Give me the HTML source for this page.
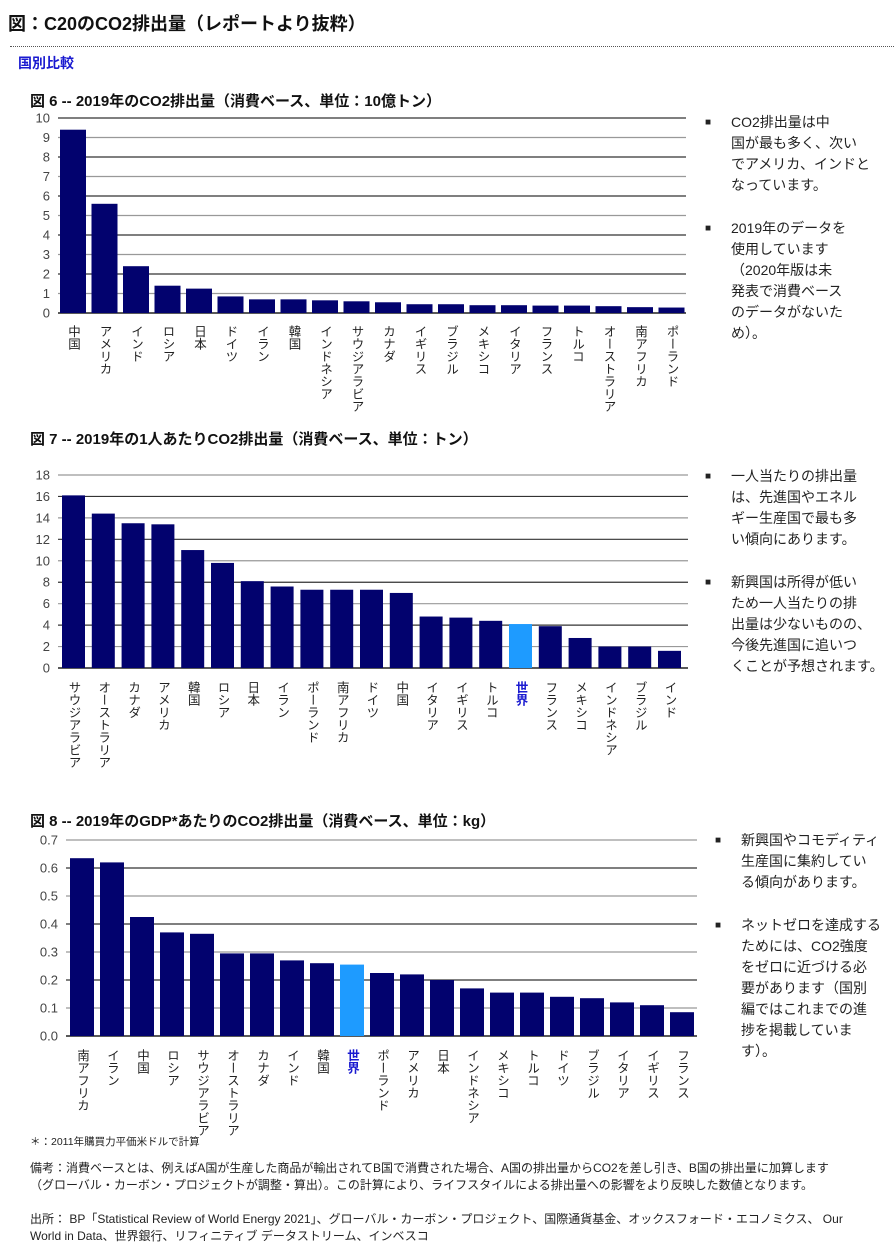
<!DOCTYPE html>
<html><head><meta charset="utf-8">
<style>
body{margin:0;width:894px;height:1254px;background:#fff;position:relative;overflow:hidden;font-family:"Liberation Sans","Noto Sans CJK JP",sans-serif;color:#111}
.a{position:absolute;white-space:nowrap}
.t{font-weight:bold;font-size:15px}
.side{position:absolute;font-size:14px;line-height:21px;color:#222;white-space:nowrap}
.side .b{position:absolute;left:-26px;font-size:10px}
.lbl{position:absolute;writing-mode:vertical-rl;font-size:12.5px;color:#222;line-height:14px}
.note{position:absolute;font-size:12px;color:#222;line-height:17px;white-space:nowrap}
svg{position:absolute;left:0;top:0}
</style></head><body>
<div class="a" style="left:8px;top:10px;font-size:18px;font-weight:bold">図：C20のCO2排出量（レポートより抜粋）</div>
<div class="a" style="left:10px;top:46px;width:884px;border-top:1px dotted #555"></div>
<div class="a" style="left:18px;top:53px;font-size:14px;font-weight:bold;color:#1a1ad0">国別比較</div>
<div class="a t" style="left:30px;top:90px">図 6 -- 2019年のCO2排出量（消費ベース、単位：10億トン）</div>
<div class="a t" style="left:30px;top:428px">図 7 -- 2019年の1人あたりCO2排出量（消費ベース、単位：トン）</div>
<div class="a t" style="left:30px;top:810px">図 8 -- 2019年のGDP*あたりのCO2排出量（消費ベース、単位：kg）</div>

<div class="side" style="left:731px;top:112px">
<div style="position:relative"><span class="b">■</span>CO2排出量は中<br>国が最も多く、次い<br>でアメリカ、インドと<br>なっています。</div>
<div style="position:relative;margin-top:22px"><span class="b">■</span>2019年のデータを<br>使用しています<br>（2020年版は未<br>発表で消費ベース<br>のデータがないた<br>め）。</div>
</div>
<div class="side" style="left:731px;top:466px">
<div style="position:relative"><span class="b">■</span>一人当たりの排出量<br>は、先進国やエネル<br>ギー生産国で最も多<br>い傾向にあります。</div>
<div style="position:relative;margin-top:22px"><span class="b">■</span>新興国は所得が低い<br>ため一人当たりの排<br>出量は少ないものの、<br>今後先進国に追いつ<br>くことが予想されます。</div>
</div>
<div class="side" style="left:741px;top:830px">
<div style="position:relative"><span class="b">■</span>新興国やコモディティ<br>生産国に集約してい<br>る傾向があります。</div>
<div style="position:relative;margin-top:22px"><span class="b">■</span>ネットゼロを達成する<br>ためには、CO2強度<br>をゼロに近づける必<br>要があります（国別<br>編ではこれまでの進<br>捗を掲載していま<br>す）。</div>
</div>

<div class="note" style="left:30px;top:1134px;font-size:10.5px">＊：2011年購買力平価米ドルで計算</div>
<div class="note" style="left:30px;top:1160px">備考：消費ベースとは、例えばA国が生産した商品が輸出されてB国で消費された場合、A国の排出量からCO2を差し引き、B国の排出量に加算します<br>（グローバル・カーボン・プロジェクトが調整・算出）。この計算により、ライフスタイルによる排出量への影響をより反映した数値となります。</div>
<div class="note" style="left:30px;top:1211px">出所： BP「Statistical Review of World Energy 2021」、グローバル・カーボン・プロジェクト、国際通貨基金、オックスフォード・エコノミクス、 Our<br>World in Data、世界銀行、リフィニティブ データストリーム、インベスコ</div>

<svg id="svg" width="894" height="1254"></svg>
<script>
const cats6=["中国","アメリカ","インド","ロシア","日本","ドイツ","イラン","韓国","インドネシア","サウジアラビア","カナダ","イギリス","ブラジル","メキシコ","イタリア","フランス","トルコ","オーストラリア","南アフリカ","ポーランド"];
const vals6=[9.4,5.6,2.4,1.4,1.25,0.85,0.7,0.7,0.65,0.6,0.55,0.45,0.45,0.4,0.4,0.38,0.38,0.35,0.3,0.28];
const ticks6=["0","1","2","3","4","5","6","7","8","9","10"];
const cats7=["サウジアラビア","オーストラリア","カナダ","アメリカ","韓国","ロシア","日本","イラン","ポーランド","南アフリカ","ドイツ","中国","イタリア","イギリス","トルコ","世界","フランス","メキシコ","インドネシア","ブラジル","インド"];
const vals7=[16.1,14.4,13.5,13.4,11.0,9.8,8.1,7.6,7.3,7.3,7.3,7.0,4.8,4.7,4.4,4.1,3.9,2.8,2.0,2.0,1.6];
const ticks7=["0","2","4","6","8","10","12","14","16","18"];
const cats8=["南アフリカ","イラン","中国","ロシア","サウジアラビア","オーストラリア","カナダ","インド","韓国","世界","ポーランド","アメリカ","日本","インドネシア","メキシコ","トルコ","ドイツ","ブラジル","イタリア","イギリス","フランス"];
const vals8=[0.635,0.62,0.425,0.37,0.365,0.295,0.295,0.27,0.26,0.255,0.225,0.22,0.2,0.17,0.155,0.155,0.14,0.135,0.12,0.11,0.085];
const ticks8=["0.0","0.1","0.2","0.3","0.4","0.5","0.6","0.7"];

const svg=document.getElementById('svg');
const NS="http://www.w3.org/2000/svg";
function mk(tag,at){const e=document.createElementNS(NS,tag);for(const k in at)e.setAttribute(k,at[k]);svg.appendChild(e);return e;}
function chart(id,cats,vals,ticks,g){
  const max=parseFloat(ticks[ticks.length-1]);
  const y=v=>g.y0-(v/max)*(g.y0-g.yTop);
  const x=i=>g.x0+g.pad+i*g.pitch;
  ticks.forEach((t,i)=>{
    const v=parseFloat(t),yy=y(v);
    const l=mk('line',{x1:g.x0,x2:g.x1,y1:yy,y2:yy,stroke:i===0?'#222':(i%2?'#999':'#333'),'stroke-width':i===0?1.5:1.2});
    
    
    const tx=mk('text',{x:g.x0-8,y:yy+4.5,'text-anchor':'end','font-size':13,fill:'#444','font-family':'Liberation Sans, sans-serif'});
    tx.textContent=t;
    
    
  });
  vals.forEach((v,i)=>{
    const world=cats[i]==="世界";
    const r=mk('rect',{x:x(i),y:y(v),width:g.bw,height:g.y0-y(v),fill:world?'#1e9bff':'#02026e'});
    
    
    const d=document.createElement('div');
    d.className='lbl';
    d.textContent=cats[i];
    d.style.left=(x(i)+g.bw/2-7)+'px';
    d.style.top=(g.y0+g.lblOff)+'px';
    if(world){d.style.color='#1a1ad0';d.style.fontWeight='bold';}
    
    
    document.body.appendChild(d);
  });
}
chart('chart6',cats6,vals6,ticks6,{x0:58,x1:686,y0:313,yTop:118,pad:2,pitch:31.5,bw:26,lblOff:12});
chart('chart7',cats7,vals7,ticks7,{x0:58,x1:688,y0:668,yTop:475,pad:4,pitch:29.8,bw:23,lblOff:13});
chart('chart8',cats8,vals8,ticks8,{x0:66,x1:697,y0:1036,yTop:840,pad:4,pitch:30,bw:24,lblOff:13});
</script>
</body></html>
